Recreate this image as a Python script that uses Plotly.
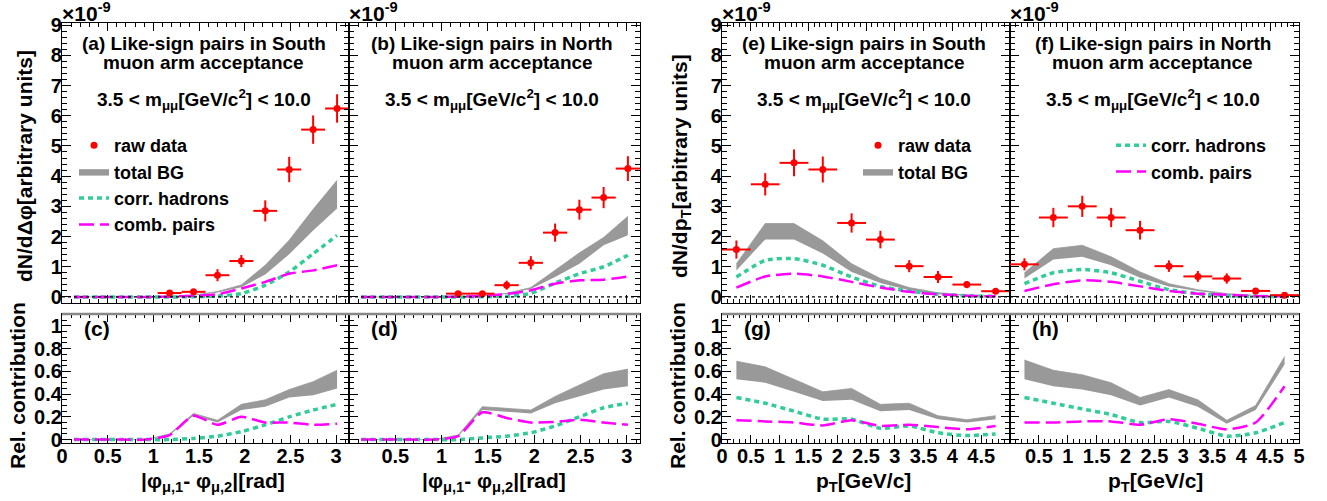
import plotly.graph_objects as go

W, H = 1327, 501

# ---------------- data ----------------
PHI = [0.131, 0.393, 0.654, 0.916, 1.178, 1.440, 1.702, 1.963, 2.225, 2.487, 2.749, 3.011]
PHI_HALF = [0.131] * 12
PT = [0.25, 0.75, 1.25, 1.75, 2.25, 2.75, 3.25, 3.75, 4.25, 4.75]
PT_HALF = [0.25] * 10

# (a) South, dphi
a_raw = [None, None, None, None, 0.13, 0.17, 0.72, 1.19, 2.85, 4.22, 5.54, 6.24]
a_raw_err = [None, None, None, None, 0.05, 0.05, 0.20, 0.20, 0.35, 0.42, 0.47, 0.47]
a_bg_lo = [0, 0, 0, 0, 0.01, 0.05, 0.15, 0.32, 0.74, 1.41, 2.20, 2.93]
a_bg_hi = [0, 0, 0, 0, 0.01, 0.06, 0.18, 0.40, 1.05, 1.88, 2.90, 3.86]
a_corr = [0, 0, 0, 0, 0, 0.01, 0.03, 0.11, 0.39, 0.83, 1.43, 2.04]
a_comb = [0, 0, 0, 0, 0.01, 0.04, 0.09, 0.28, 0.50, 0.77, 0.88, 1.05]

# (b) North, dphi
b_raw = [None, None, None, None, 0.11, 0.11, 0.39, 1.13, 2.13, 2.89, 3.29, 4.25]
b_raw_err = [None, None, None, None, 0.04, 0.04, 0.15, 0.22, 0.30, 0.33, 0.35, 0.41]
b_bg_lo = [0, 0, 0, 0, 0.01, 0.03, 0.10, 0.26, 0.66, 1.10, 1.71, 2.04]
b_bg_hi = [0, 0, 0, 0, 0.01, 0.04, 0.12, 0.31, 0.88, 1.46, 1.97, 2.67]
b_corr = [0, 0, 0, 0, 0, 0.01, 0.02, 0.12, 0.46, 0.77, 1.00, 1.38]
b_comb = [0, 0, 0, 0, 0.01, 0.03, 0.10, 0.22, 0.44, 0.55, 0.57, 0.68]

# (e) South, pT
e_raw = [1.57, 3.73, 4.44, 4.22, 2.45, 1.90, 1.02, 0.66, 0.41, 0.19]
e_raw_err = [0.30, 0.37, 0.44, 0.43, 0.32, 0.29, 0.20, 0.20, 0.12, 0.06]
e_bg_lo = [0.88, 1.90, 1.90, 1.44, 0.83, 0.46, 0.22, 0.09, 0.04, 0.01]
e_bg_hi = [1.10, 2.43, 2.43, 1.86, 1.10, 0.61, 0.31, 0.14, 0.06, 0.02]
e_corr = [0.66, 1.21, 1.27, 1.05, 0.66, 0.35, 0.19, 0.09, 0.04, 0.02]
e_comb = [0.31, 0.68, 0.77, 0.68, 0.50, 0.31, 0.17, 0.09, 0.04, 0.02]

# (f) North, pT
f_raw = [1.08, 2.63, 3.00, 2.63, 2.21, 1.02, 0.68, 0.61, 0.20, 0.06]
f_raw_err = [0.20, 0.32, 0.35, 0.32, 0.31, 0.19, 0.18, 0.17, 0.06, 0.03]
f_bg_lo = [0.61, 1.24, 1.33, 1.05, 0.64, 0.35, 0.20, 0.07, 0.03, 0.01]
f_bg_hi = [0.80, 1.60, 1.71, 1.33, 0.83, 0.44, 0.24, 0.11, 0.05, 0.02]
f_corr = [0.44, 0.80, 0.91, 0.80, 0.52, 0.24, 0.11, 0.04, 0.02, 0.01]
f_comb = [0.20, 0.42, 0.55, 0.50, 0.35, 0.20, 0.11, 0.07, 0.03, 0.02]

# (c) relative, South, dphi
c_bg_lo = [0, 0, 0, 0, 0.04, 0.21, 0.15, 0.26, 0.29, 0.37, 0.39, 0.45]
c_bg_hi = [0, 0, 0, 0, 0.05, 0.23, 0.17, 0.31, 0.35, 0.44, 0.51, 0.61]
c_corr = [0, 0, 0, 0, 0, 0.01, 0.03, 0.07, 0.13, 0.20, 0.26, 0.31]
c_comb = [0, 0, 0, 0, 0.04, 0.21, 0.13, 0.20, 0.15, 0.15, 0.13, 0.14]

# (d) relative, North, dphi
d_bg_lo = [0, 0, 0, 0, 0.03, 0.26, 0.245, 0.23, 0.32, 0.38, 0.44, 0.47]
d_bg_hi = [0, 0, 0, 0, 0.04, 0.29, 0.275, 0.26, 0.38, 0.48, 0.58, 0.62]
d_corr = [0, 0, 0, 0, 0, 0.015, 0.03, 0.06, 0.12, 0.20, 0.28, 0.32]
d_comb = [0, 0, 0, 0, 0.03, 0.24, 0.19, 0.15, 0.155, 0.175, 0.15, 0.13]

# (g) relative, South, pT
g_bg_lo = [0.53, 0.50, 0.42, 0.34, 0.35, 0.25, 0.26, 0.18, 0.15, 0.18]
g_bg_hi = [0.69, 0.64, 0.53, 0.42, 0.45, 0.31, 0.32, 0.21, 0.175, 0.21]
g_corr = [0.37, 0.32, 0.25, 0.18, 0.18, 0.10, 0.12, 0.06, 0.035, 0.05]
g_comb = [0.17, 0.16, 0.15, 0.125, 0.17, 0.12, 0.13, 0.11, 0.09, 0.12]

# (h) relative, North, pT
h_bg_lo = [0.53, 0.47, 0.44, 0.39, 0.30, 0.37, 0.29, 0.14, 0.26, 0.66]
h_bg_hi = [0.70, 0.61, 0.57, 0.50, 0.37, 0.44, 0.35, 0.17, 0.30, 0.73]
h_corr = [0.37, 0.32, 0.27, 0.22, 0.15, 0.16, 0.10, 0.03, 0.06, 0.15]
h_comb = [0.15, 0.15, 0.16, 0.16, 0.13, 0.18, 0.14, 0.09, 0.15, 0.47]

PHI_TICKS = [0, 0.5, 1, 1.5, 2, 2.5, 3]
PT_TICKS = [0, 0.5, 1, 1.5, 2, 2.5, 3, 3.5, 4, 4.5, 5]
TOP_YTICKS = [0, 1, 2, 3, 4, 5, 6, 7, 8, 9]
REL_YTICKS = [0, 0.2, 0.4, 0.6, 0.8, 1]

# ---------------- styles ----------------
RED = "#ff0000"
GRAY = "#999999"
GREEN = "#33cc99"
MAGENTA = "#ff00ff"
FONT = "Liberation Sans"

def px(x):
    return x / W

def py(y):
    return 1 - y / H

XCOL = {
    "a": (62, 349), "b": (349, 640), "e": (722, 1010), "f": (1010, 1299),
}
TOP_Y = (23, 303)
BOT_Y = (314, 443)

fig = go.Figure()

panels = [
    ("a", 1, PHI, PHI_HALF, a_raw, a_raw_err, a_bg_lo, a_bg_hi, a_corr, a_comb),
    ("b", 2, PHI, PHI_HALF, b_raw, b_raw_err, b_bg_lo, b_bg_hi, b_corr, b_comb),
    ("e", 3, PT, PT_HALF, e_raw, e_raw_err, e_bg_lo, e_bg_hi, e_corr, e_comb),
    ("f", 4, PT, PT_HALF, f_raw, f_raw_err, f_bg_lo, f_bg_hi, f_corr, f_comb),
    ("c", 5, PHI, PHI_HALF, None, None, c_bg_lo, c_bg_hi, c_corr, c_comb),
    ("d", 6, PHI, PHI_HALF, None, None, d_bg_lo, d_bg_hi, d_corr, d_comb),
    ("g", 7, PT, PT_HALF, None, None, g_bg_lo, g_bg_hi, g_corr, g_comb),
    ("h", 8, PT, PT_HALF, None, None, h_bg_lo, h_bg_hi, h_corr, h_comb),
]

legend_map = {
    "a": {"raw": "legend", "bg": "legend", "corr": "legend", "comb": "legend"},
    "e": {"raw": "legend2", "bg": "legend2"},
    "f": {"corr": "legend3", "comb": "legend3"},
}

for name, idx, xs, xh, raw, raw_err, lo, hi, corr, comb in panels:
    xa = "x" if idx == 1 else f"x{idx}"
    ya = "y" if idx == 1 else f"y{idx}"
    lm = legend_map.get(name, {})

    def leg(key):
        if key in lm:
            return dict(showlegend=True, legend=lm[key])
        return dict(showlegend=False)

    fig.add_trace(go.Scatter(x=xs, y=lo, mode="lines", line=dict(width=0, color=GRAY),
                             xaxis=xa, yaxis=ya, showlegend=False, hoverinfo="skip"))
    fig.add_trace(go.Scatter(x=xs, y=hi, mode="lines", line=dict(width=0.8, color=GRAY),
                             fill="tonexty", fillcolor=GRAY, name="total BG",
                             legendgroup="bg" + name, legendrank=2,
                             xaxis=xa, yaxis=ya, **leg("bg")))
    fig.add_trace(go.Scatter(x=xs, y=corr, mode="lines", name="corr. hadrons",
                             line=dict(color=GREEN, width=3.5, dash="5px,4px", shape="spline", smoothing=0.6),
                             legendgroup="corr" + name, legendrank=3,
                             xaxis=xa, yaxis=ya, **leg("corr")))
    fig.add_trace(go.Scatter(x=xs, y=comb, mode="lines", name="comb. pairs",
                             line=dict(color=MAGENTA, width=2.5, dash="15px,6px", shape="spline", smoothing=0.6),
                             legendgroup="comb" + name, legendrank=4,
                             xaxis=xa, yaxis=ya, **leg("comb")))
    if raw is not None:
        fig.add_trace(go.Scatter(x=xs, y=raw, mode="markers", name="raw data",
                                 marker=dict(color=RED, size=7),
                                 error_y=dict(type="data", array=raw_err, color=RED, thickness=2, width=0),
                                 error_x=dict(type="data", array=xh, color=RED, thickness=2, width=0),
                                 legendgroup="raw" + name, legendrank=1,
                                 xaxis=xa, yaxis=ya, **leg("raw")))

tickfont = dict(family=FONT, size=20, color="black", weight="bold")

def axis_common():
    return dict(showline=True, linecolor="black", linewidth=1.2, mirror="allticks",
                ticks="inside", tickcolor="black", showgrid=False, zeroline=False,
                tickfont=tickfont, fixedrange=True, automargin=False)

layout = dict(template="none", width=W, height=H, margin=dict(l=0, r=0, t=0, b=0, pad=0),
              plot_bgcolor="white", paper_bgcolor="white",
              font=dict(family=FONT, color="black"))

order = ["a", "b", "e", "f", "c", "d", "g", "h"]
for i, name in enumerate(order):
    idx = i + 1
    col = {"a": "a", "c": "a", "b": "b", "d": "b", "e": "e", "g": "e", "f": "f", "h": "f"}[name]
    x0, x1 = XCOL[col]
    top = name in "abef"
    yb = TOP_Y if top else BOT_Y
    xk = "xaxis" if idx == 1 else f"xaxis{idx}"
    yk = "yaxis" if idx == 1 else f"yaxis{idx}"
    xa = "x" if idx == 1 else f"x{idx}"
    ya = "y" if idx == 1 else f"y{idx}"
    is_phi = name in "abcd"
    xr = [0, 3.1416] if is_phi else [0, 5]
    xax = axis_common()
    xax.update(domain=[px(x0), px(x1)], range=xr, anchor=ya, ticklen=8, tickwidth=1,
               minor=dict(ticks="inside", dtick=0.1, tick0=0, ticklen=4, tickcolor="black"))
    if top:
        xax.update(tickvals=PHI_TICKS if is_phi else PT_TICKS, showticklabels=False)
    else:
        if name == "c":
            tv = PHI_TICKS
        elif name == "d":
            tv = PHI_TICKS[1:]
        elif name == "g":
            tv = PT_TICKS[:-1]
        else:
            tv = PT_TICKS[1:]
        xax.update(tickvals=tv, ticktext=[f"{v:g}" for v in tv], showticklabels=True, ticklabelstandoff=-5)
    yax = axis_common()
    if top:
        yax.update(domain=[py(yb[1]), py(yb[0])], range=[-0.2, 9.07], anchor=xa,
                   tickvals=TOP_YTICKS, ticklen=9, tickwidth=1,
                   minor=dict(ticks="inside", dtick=0.2, tick0=0, ticklen=5, tickcolor="black"),
                   showticklabels=name in "ae", ticklabelstandoff=-5)
    else:
        yax.update(domain=[py(yb[1]), py(yb[0])], range=[-0.03, 1.105], anchor=xa,
                   tickvals=REL_YTICKS, ticktext=[f"{v:g}" for v in REL_YTICKS], ticklen=9, tickwidth=1,
                   minor=dict(ticks="inside", dtick=0.05, tick0=0, ticklen=5, tickcolor="black"),
                   showticklabels=name in "cg", ticklabelstandoff=-5)
    layout[xk] = xax
    layout[yk] = yax

legfont = dict(family=FONT, size=18, color="black", weight="bold")
legcommon = dict(xanchor="left", yanchor="top", font=legfont, bgcolor="rgba(0,0,0,0)",
                 traceorder="grouped", tracegroupgap=0, itemwidth=30, borderwidth=0)
layout["legend"] = dict(x=px(74), y=py(127), **legcommon)
layout["legend2"] = dict(x=px(858), y=py(127), **legcommon)
layout["legend3"] = dict(x=px(1111), y=py(127), **legcommon)

fig.update_layout(**layout)

shapes = []
for idx in [1, 2, 3, 4]:
    xa = "x" if idx == 1 else f"x{idx}"
    ya = "y" if idx == 1 else f"y{idx}"
    shapes.append(dict(type="line", xref=f"{xa} domain", yref=ya, x0=0, x1=1, y0=0, y1=0,
                       line=dict(color="black", width=1.2, dash="3px,3px")))
for idx in [5, 6, 7, 8]:
    xa = f"x{idx}"
    ya = f"y{idx}"
    shapes.append(dict(type="line", xref=f"{xa} domain", yref=f"{ya} domain", x0=0, x1=1, y0=1, y1=1,
                       line=dict(color="#888888", width=2.5)))
fig.update_layout(shapes=shapes)

ann = []
tfont = dict(family=FONT, size=19, color="black", weight="bold")
titles = {
    "a": ("(a) Like-sign pairs in South", "muon arm acceptance"),
    "b": ("(b) Like-sign pairs in North", "muon arm acceptance"),
    "e": ("(e) Like-sign pairs in South", "muon arm acceptance"),
    "f": ("(f) Like-sign pairs in North", "muon arm acceptance"),
}
mass = "3.5 < m<sub>μμ</sub>[GeV/c<sup>2</sup>] < 10.0"
for k, (t1, t2) in titles.items():
    x0, x1 = XCOL[k]
    cx = px((x0 + x1) / 2 - 2)
    ann.append(dict(x=cx, y=py(43), xref="paper", yref="paper", text=t1,
                    showarrow=False, xanchor="center", yanchor="middle", font=tfont))
    ann.append(dict(x=cx, y=py(63), xref="paper", yref="paper", text=t2,
                    showarrow=False, xanchor="center", yanchor="middle", font=tfont))
    ann.append(dict(x=cx, y=py(100), xref="paper", yref="paper", text=mass,
                    showarrow=False, xanchor="center", yanchor="middle", font=tfont))
    ann.append(dict(x=px(x0 - 2), y=py(12), xref="paper", yref="paper",
                    text="×10<sup>-9</sup>", showarrow=False, xanchor="left", yanchor="middle",
                    font=dict(family=FONT, size=21, color="black", weight="bold")))

for k, col in [("c", "a"), ("d", "b"), ("g", "e"), ("h", "f")]:
    x0, _ = XCOL[col]
    ann.append(dict(x=px(x0 + 20), y=py(328), xref="paper", yref="paper", text=f"({k})",
                    showarrow=False, xanchor="left", yanchor="middle",
                    font=dict(family=FONT, size=21, color="black", weight="bold")))

afont = dict(family=FONT, size=21, color="black", weight="bold")
ann.append(dict(x=px(24), y=py(166), xref="paper", yref="paper", text="dN/dΔφ[arbitrary units]",
                textangle=-90, showarrow=False, xanchor="center", yanchor="middle", font=afont))
ann.append(dict(x=px(681), y=py(166), xref="paper", yref="paper", text="dN/dp<sub>T</sub>[arbitrary units]",
                textangle=-90, showarrow=False, xanchor="center", yanchor="middle", font=afont))
for xx in [17, 677]:
    ann.append(dict(x=px(xx), y=py(386), xref="paper", yref="paper", text="Rel. contribution",
                    textangle=-90, showarrow=False, xanchor="center", yanchor="middle", font=afont))
phi_title = "|φ<sub>μ,1</sub>- φ<sub>μ,2</sub>|[rad]"
pt_title = "p<sub>T</sub>[GeV/c]"
xtfont = dict(family=FONT, size=21, color="black", weight="bold")
for cx, t in [(213, phi_title), (494, phi_title), (863, pt_title), (1155, pt_title)]:
    ann.append(dict(x=px(cx), y=py(482), xref="paper", yref="paper", text=t,
                    showarrow=False, xanchor="center", yanchor="middle", font=xtfont))

fig.update_layout(annotations=ann)
fig.write_html("out.html", config={"displayModeBar": False},
               post_script="document.body.style.margin='0';document.body.style.overflow='hidden';")
